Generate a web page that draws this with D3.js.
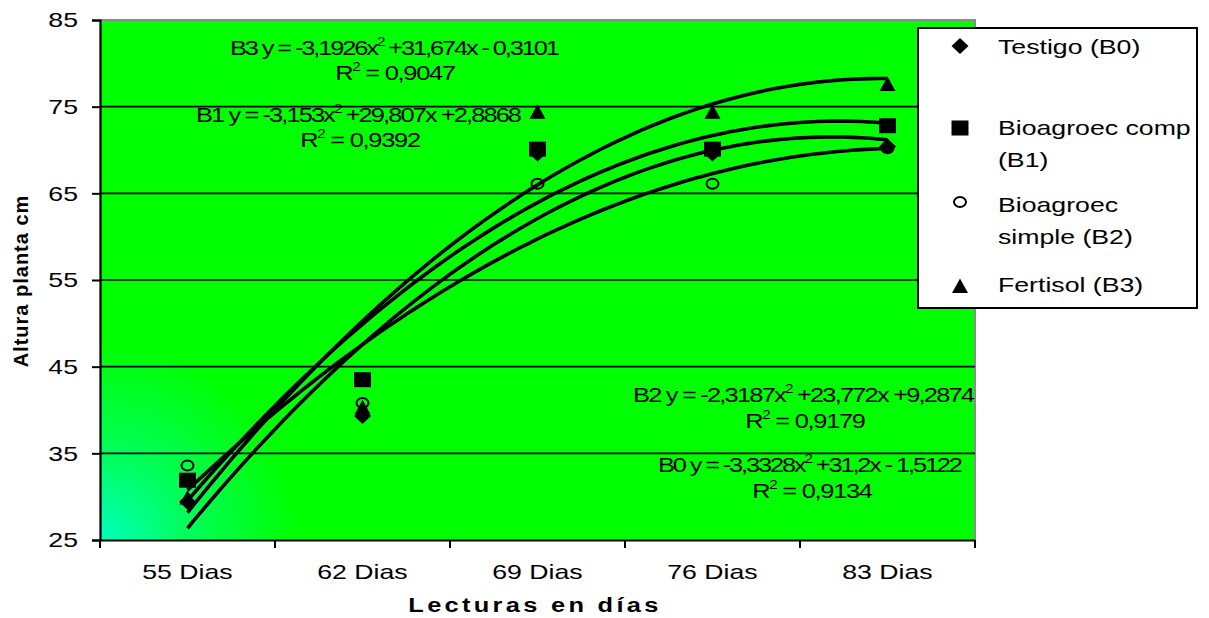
<!DOCTYPE html>
<html>
<head>
<meta charset="utf-8">
<script src="https://cdn.jsdelivr.net/npm/d3@7"></script>
<style>
  body { margin: 0; background: #fff; }
  svg { display: block; font-family: "Liberation Sans", Arial, sans-serif; }
</style>
</head>
<body>
<svg id="chart" width="1209" height="618"></svg>
<script>
// data
const categories = ["55 Dias", "62 Dias", "69 Dias", "76 Dias", "83 Dias"];
const yTicks = [25, 35, 45, 55, 65, 75, 85];
const testigoB0 = [29.4, 39.3, 69.6, 69.6, 70.4];
const compB1 = [31.9, 43.5, 70.1, 70.1, 72.8];
const simpleB2 = [33.6, 40.8, 66.1, 66.1, 70.2];
const fertisolB3 = [29.8, 40.2, 74.3, 74.3, 77.5];
// trendline coefficients (a x^2 + b x + c) from the labels
const coefB0 = [-3.3328, 31.2, -1.5122];
const coefB1 = [-3.153, 29.807, 2.8868];
const coefB2 = [-2.3187, 23.772, 9.2874];
const coefB3 = [-3.1926, 31.674, -0.3101];

const series = [
  { name: "Testigo (B0)", values: testigoB0, coef: coefB0, symbol: "diamond" },
  { name: "Bioagroec comp (B1)", values: compB1, coef: coefB1, symbol: "square" },
  { name: "Bioagroec simple (B2)", values: simpleB2, coef: coefB2, symbol: "circle" },
  { name: "Fertisol (B3)", values: fertisolB3, coef: coefB3, symbol: "triangle" },
];

const SX = 1.27; // the picture's text is a bit wide
const svg = d3.select("#chart");
const mLeft = 100, mRight = 975, mTop = 20, mBottom = 540;

const x = d3.scaleBand().domain(categories).range([mLeft, mRight]);
const y = d3.scaleLinear().domain([25, 85]).range([mBottom, mTop]);
const xn = d3.scaleLinear().domain([1, 5])
  .range([x(categories[0]) + x.bandwidth() / 2, x(categories[4]) + x.bandwidth() / 2]);

// widen text horizontally around its own anchor
const stretch = sel => sel.each(function () {
  const t = d3.select(this);
  const tx = +t.attr("x") || 0, ty = +t.attr("y") || 0;
  t.attr("transform", `translate(${tx},${ty}) scale(${SX},1) translate(${-tx},${-ty})`);
});

// background
const defs = svg.append("defs");
const grad = defs.append("radialGradient").attr("id", "bg")
  .attr("gradientUnits", "userSpaceOnUse")
  .attr("cx", mLeft).attr("cy", mBottom).attr("r", 200);
grad.append("stop").attr("offset", 0).attr("stop-color", "#00ffc0");
grad.append("stop").attr("offset", 0.4).attr("stop-color", "#00ff60");
grad.append("stop").attr("offset", 1).attr("stop-color", "#00ff00");

svg.append("rect").attr("x", mLeft).attr("y", mTop)
  .attr("width", mRight - mLeft).attr("height", mBottom - mTop)
  .attr("fill", "url(#bg)");

// gray frame top / right
svg.append("path")
  .attr("d", `M${mLeft},${mTop}H${mRight}V${mBottom}`)
  .attr("fill", "none").attr("stroke", "#8c8c8c").attr("stroke-width", 2);

// gridlines
svg.append("g").selectAll("line")
  .data(yTicks.filter(d => d > 25 && d < 85))
  .join("line")
  .attr("x1", mLeft).attr("x2", mRight)
  .attr("y1", d => y(d)).attr("y2", d => y(d))
  .attr("stroke", "#000").attr("stroke-width", 1.6);

// y axis
const yAxis = svg.append("g").attr("transform", `translate(${mLeft},0)`)
  .call(d3.axisLeft(y).tickValues(yTicks).tickSize(8).tickPadding(14));
yAxis.select(".domain").attr("stroke-width", 2.2);
yAxis.selectAll(".tick line").attr("stroke-width", 2);
yAxis.selectAll(".tick text").attr("font-size", 21).attr("fill", "#000")
  .attr("font-family", "Liberation Sans, Arial, sans-serif").call(stretch);

// x axis
const xAxis = svg.append("g").attr("transform", `translate(0,${mBottom})`)
  .call(d3.axisBottom(x).tickSize(0).tickPadding(24));
xAxis.select(".domain").attr("stroke-width", 2.2);
xAxis.selectAll(".tick text").attr("font-size", 21).attr("fill", "#000")
  .attr("font-family", "Liberation Sans, Arial, sans-serif").call(stretch);
svg.append("g").selectAll("line")
  .data(categories.map(c => x(c)).concat([mRight]))
  .join("line")
  .attr("x1", d => d).attr("x2", d => d)
  .attr("y1", mBottom).attr("y2", mBottom + 8)
  .attr("stroke", "#000").attr("stroke-width", 2);

// axis titles
svg.append("text").attr("x", 535).attr("y", 612)
  .attr("text-anchor", "middle").attr("font-size", 20).attr("font-weight", "bold")
  .attr("letter-spacing", 2.6).text("Lecturas en días").call(stretch);
svg.append("text").attr("transform", "translate(28,281) rotate(-90)")
  .attr("text-anchor", "middle").attr("font-size", 20).attr("font-weight", "bold")
  .attr("letter-spacing", 1).text("Altura planta cm");

// trendlines
const trend = d3.line().x(d => xn(d[0])).y(d => y(d[1])).curve(d3.curveLinear);
const xs = d3.range(1, 5.0001, 0.05);
svg.append("g").selectAll("path")
  .data(series)
  .join("path")
  .attr("d", s => trend(xs.map(t => [t, s.coef[0] * t * t + s.coef[1] * t + s.coef[2]])))
  .attr("fill", "none").attr("stroke", "#000").attr("stroke-width", 3.6)
  .attr("stroke-linejoin", "round");

// markers
const markerPath = {
  diamond: "M0,-8L8.5,0L0,8L-8.5,0Z",
  square: "M-8.5,-7.5H8.5V7.5H-8.5Z",
  triangle: "M0,-8.5L8,6L-8,6Z",
};
function drawMarker(g, symbol, cx, cy) {
  if (symbol === "circle") {
    g.append("ellipse").attr("cx", cx).attr("cy", cy).attr("rx", 6).attr("ry", 5)
      .attr("fill", "none").attr("stroke", "#000").attr("stroke-width", 2);
  } else {
    g.append("path").attr("d", markerPath[symbol])
      .attr("transform", `translate(${cx},${cy})`).attr("fill", "#000");
  }
}
const markers = svg.append("g");
series.forEach(s => {
  s.values.forEach((v, i) => {
    drawMarker(markers, s.symbol, x(categories[i]) + x.bandwidth() / 2, y(v));
  });
});

// equation labels
const eqs = [
  { label: "B3", a: "-3,1926", b: "+31,674x - 0,3101", r2: "0,9047", x: 230, w: 330, y: 55, rx: 395, ry: 80 },
  { label: "B1", a: "-3,153", b: "+29,807x +2,8868", r2: "0,9392", x: 196, w: 326, y: 122, rx: 360, ry: 147 },
  { label: "B2", a: "-2,3187", b: "+23,772x +9,2874", r2: "0,9179", x: 633, w: 342, y: 402, rx: 805, ry: 428 },
  { label: "B0", a: "-3,3328", b: "+31,2x - 1,5122", r2: "0,9134", x: 658, w: 305, y: 472, rx: 812, ry: 498 },
];
const eqG = svg.append("g").attr("font-size", 20);
eqs.forEach(e => {
  const t = eqG.append("text").attr("x", e.x).attr("y", e.y)
    .attr("textLength", e.w / SX).attr("lengthAdjust", "spacing");
  t.append("tspan").text(`${e.label} y = ${e.a}x`);
  t.append("tspan").attr("dy", -9).attr("font-size", 12).text("2");
  t.append("tspan").attr("dy", 9).text(` ${e.b}`);
  t.call(stretch);
  const r = eqG.append("text").attr("x", e.rx).attr("y", e.ry)
    .attr("text-anchor", "middle").attr("letter-spacing", -1);
  r.append("tspan").text("R");
  r.append("tspan").attr("dy", -9).attr("font-size", 12).text("2");
  r.append("tspan").attr("dy", 9).text(` = ${e.r2}`);
  r.call(stretch);
});

// legend
const legend = svg.append("g");
legend.append("rect").attr("x", 918).attr("y", 28).attr("width", 279).attr("height", 280)
  .attr("fill", "#fff").attr("stroke", "#000").attr("stroke-width", 2);
const legendRows = [
  { lines: ["Testigo (B0)"], my: 46, ty: 54 },
  { lines: ["Bioagroec comp", "(B1)"], my: 128, ty: 135 },
  { lines: ["Bioagroec", "simple (B2)"], my: 202, ty: 212 },
  { lines: ["Fertisol (B3)"], my: 287, ty: 292 },
];
series.forEach((s, i) => {
  const row = legendRows[i];
  drawMarker(legend, s.symbol, 960, row.my);
  row.lines.forEach((l, j) => {
    legend.append("text").attr("x", 998).attr("y", row.ty + j * 32)
      .attr("font-size", 21).text(l).call(stretch);
  });
});
</script>
</body>
</html>
